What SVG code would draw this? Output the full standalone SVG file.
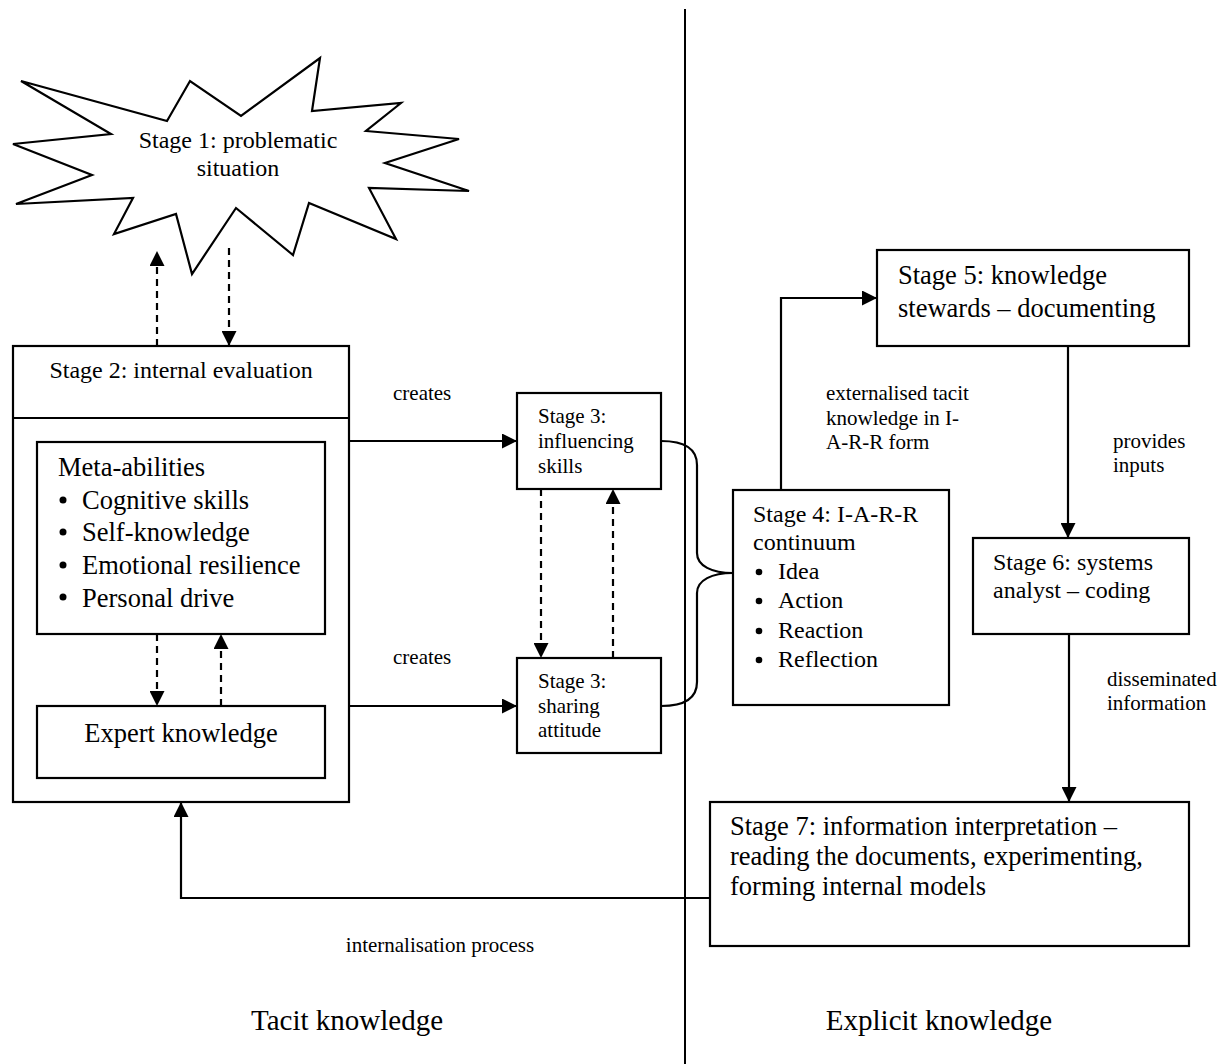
<svg xmlns="http://www.w3.org/2000/svg" width="1223" height="1064" viewBox="0 0 1223 1064">
<defs>
<marker id="ah" markerUnits="userSpaceOnUse" markerWidth="15" markerHeight="15" refX="15" refY="7.5" orient="auto">
<path d="M0,0 L15,7.5 L0,15 z" fill="#000"/>
</marker>
<style>
text{font-family:"Liberation Serif","Times New Roman",serif;fill:#000}
.box{fill:#fff;stroke:#000;stroke-width:2.2}
.ln{fill:none;stroke:#000;stroke-width:2.2}
.dash{fill:none;stroke:#000;stroke-width:2.2;stroke-dasharray:7,5}
.s24{font-size:24px}
.s26{font-size:26.5px}
.s21{font-size:21px}
.s29{font-size:29px}
</style>
</defs>
<rect width="1223" height="1064" fill="#fff"/>
<line x1="685" y1="9" x2="685" y2="1064" stroke="#000" stroke-width="2"/>

<g id="stage1">
<polygon class="box" points="21,81 167,121 190,81 241,116 320,58 312,111 401,103 366,131 459,139 385,163 469,191 369,188 396,239 309,203 293,255 236,208 192,274 176,214 114,234 133,198 16,204 92,175 13,144 111,134"/>
<text class="s24" x="238" y="148" text-anchor="middle">Stage 1: problematic</text>
<text class="s24" x="238" y="176" text-anchor="middle">situation</text>
</g>

<g id="stage2">
<rect class="box" x="13" y="346" width="336" height="456"/>
<line class="ln" x1="13" y1="418" x2="349" y2="418"/>
<text class="s24" x="181" y="378" text-anchor="middle">Stage 2: internal evaluation</text>
</g>

<g id="meta">
<rect class="box" x="37" y="442" width="288" height="192"/>
<text class="s26" x="58" y="476">Meta-abilities</text>
<circle cx="63" cy="500" r="3.5"/>
<text class="s26" x="82" y="509">Cognitive skills</text>
<circle cx="63" cy="532" r="3.5"/>
<text class="s26" x="82" y="541">Self-knowledge</text>
<circle cx="63" cy="565" r="3.5"/>
<text class="s26" x="82" y="574">Emotional resilience</text>
<circle cx="63" cy="597" r="3.5"/>
<text class="s26" x="82" y="607">Personal drive</text>
</g>

<g id="expert">
<rect class="box" x="37" y="706" width="288" height="72"/>
<text class="s26" x="181" y="742" text-anchor="middle">Expert knowledge</text>
</g>

<g id="stage3a">
<rect class="box" x="517" y="393" width="144" height="96"/>
<text class="s21" x="538" y="423">Stage 3:</text>
<text class="s21" x="538" y="448">influencing</text>
<text class="s21" x="538" y="473">skills</text>
</g>

<g id="stage3b">
<rect class="box" x="517" y="658" width="144" height="95"/>
<text class="s21" x="538" y="688">Stage 3:</text>
<text class="s21" x="538" y="713">sharing</text>
<text class="s21" x="538" y="737">attitude</text>
</g>

<g id="stage4">
<rect class="box" x="733" y="490" width="216" height="215"/>
<text class="s24" x="753" y="522">Stage 4: I-A-R-R</text>
<text class="s24" x="753" y="550">continuum</text>
<circle cx="759" cy="572" r="3.3"/>
<text class="s24" x="778" y="579">Idea</text>
<circle cx="759" cy="601" r="3.3"/>
<text class="s24" x="778" y="608">Action</text>
<circle cx="759" cy="631" r="3.3"/>
<text class="s24" x="778" y="638">Reaction</text>
<circle cx="759" cy="660" r="3.3"/>
<text class="s24" x="778" y="667">Reflection</text>
</g>

<g id="stage5">
<rect class="box" x="877" y="250" width="312" height="96"/>
<text class="s26" x="898" y="284">Stage 5: knowledge</text>
<text class="s26" x="898" y="317">stewards – documenting</text>
</g>

<g id="stage6">
<rect class="box" x="973" y="538" width="216" height="96"/>
<text class="s24" x="993" y="570">Stage 6: systems</text>
<text class="s24" x="993" y="598">analyst – coding</text>
</g>

<g id="stage7">
<rect class="box" x="710" y="802" width="479" height="144"/>
<text class="s26" x="730" y="835">Stage 7: information interpretation –</text>
<text class="s26" x="730" y="865">reading the documents, experimenting,</text>
<text class="s26" x="730" y="895">forming internal models</text>
</g>

<g id="connectors">
<line class="dash" x1="157" y1="346" x2="157" y2="251" marker-end="url(#ah)"/>
<line class="dash" x1="229" y1="248" x2="229" y2="346" marker-end="url(#ah)"/>
<line class="dash" x1="157" y1="634" x2="157" y2="706" marker-end="url(#ah)"/>
<line class="dash" x1="221" y1="706" x2="221" y2="634" marker-end="url(#ah)"/>
<line class="ln" x1="349" y1="441" x2="517" y2="441" marker-end="url(#ah)"/>
<line class="ln" x1="349" y1="706" x2="517" y2="706" marker-end="url(#ah)"/>
<line class="dash" x1="541" y1="489" x2="541" y2="658" marker-end="url(#ah)"/>
<line class="dash" x1="613" y1="658" x2="613" y2="489" marker-end="url(#ah)"/>
<path class="ln" d="M661,441 C685,441 697,449 697,465 L697,553 C697,566 712,573 733,573"/>
<path class="ln" d="M661,706 C685,706 697,698 697,682 L697,593 C697,580 712,573 733,573"/>
<polyline class="ln" points="781,490 781,298 877,298" marker-end="url(#ah)"/>
<line class="ln" x1="1068" y1="346" x2="1068" y2="538" marker-end="url(#ah)"/>
<line class="ln" x1="1069" y1="634" x2="1069" y2="802" marker-end="url(#ah)"/>
<polyline class="ln" points="710,898 181,898 181,802" marker-end="url(#ah)"/>
</g>

<g id="labels">
<text class="s21" x="393" y="400">creates</text>
<text class="s21" x="393" y="664">creates</text>
<text class="s21" x="826" y="400">externalised tacit</text>
<text class="s21" x="826" y="425">knowledge in I-</text>
<text class="s21" x="826" y="449">A-R-R form</text>
<text class="s21" x="1113" y="448">provides</text>
<text class="s21" x="1113" y="472">inputs</text>
<text class="s21" x="1107" y="686">disseminated</text>
<text class="s21" x="1107" y="710">information</text>
<text class="s21" x="440" y="952" text-anchor="middle">internalisation process</text>
<text class="s29" x="347" y="1030" text-anchor="middle">Tacit knowledge</text>
<text class="s29" x="939" y="1030" text-anchor="middle">Explicit knowledge</text>
</g>
</svg>
